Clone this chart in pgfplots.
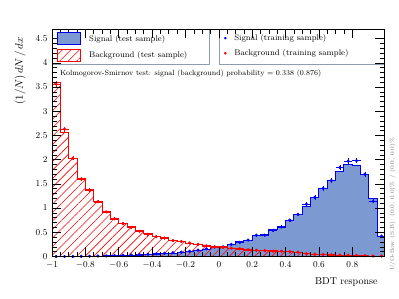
\documentclass[border=0pt]{standalone}
\usepackage{pgfplots}
\usepackage{pgfplotstable}
\pgfplotsset{compat=1.18}
\usetikzlibrary{patterns.meta}
\definecolor{sigfill}{HTML}{7D99D1}
\definecolor{sigline}{HTML}{0000EE}
\definecolor{legframe}{HTML}{8C9DB3}

% test-sample histograms (bin left edge, density); last row closes last bin
\pgfplotstableread{
x y
-1.00 0.000
-0.95 0.000
-0.90 0.000
-0.85 0.002
-0.80 0.005
-0.75 0.008
-0.70 0.012
-0.65 0.017
-0.60 0.022
-0.55 0.028
-0.50 0.035
-0.45 0.043
-0.40 0.052
-0.35 0.062
-0.30 0.072
-0.25 0.085
-0.20 0.100
-0.15 0.120
-0.10 0.150
-0.05 0.190
0.00 0.210
0.05 0.250
0.10 0.300
0.15 0.340
0.20 0.440
0.25 0.460
0.30 0.550
0.35 0.620
0.40 0.750
0.45 0.870
0.50 1.040
0.55 1.220
0.60 1.400
0.65 1.580
0.70 1.750
0.75 1.900
0.80 1.890
0.85 1.700
0.90 1.190
0.95 0.420
1.00 0.420
}\sigtest

\pgfplotstableread{
x y
-1.00 3.600
-0.95 2.570
-0.90 2.030
-0.85 1.620
-0.80 1.390
-0.75 1.130
-0.70 0.930
-0.65 0.790
-0.60 0.680
-0.55 0.620
-0.50 0.530
-0.45 0.470
-0.40 0.410
-0.35 0.390
-0.30 0.330
-0.25 0.310
-0.20 0.270
-0.15 0.250
-0.10 0.220
-0.05 0.200
0.00 0.200
0.05 0.170
0.10 0.155
0.15 0.140
0.20 0.130
0.25 0.120
0.30 0.115
0.35 0.110
0.40 0.100
0.45 0.090
0.50 0.060
0.55 0.045
0.60 0.040
0.65 0.035
0.70 0.030
0.75 0.025
0.80 0.020
0.85 0.015
0.90 0.010
0.95 0.010
1.00 0.010
}\bkgtest

% training samples (bin centre, density, error)
\pgfplotstableread{
x y e
-0.975 0.000 0.000
-0.925 0.000 0.000
-0.875 0.001 0.002
-0.825 0.003 0.003
-0.775 0.006 0.004
-0.725 0.010 0.005
-0.675 0.013 0.005
-0.625 0.019 0.006
-0.575 0.024 0.007
-0.525 0.030 0.008
-0.475 0.037 0.009
-0.425 0.045 0.010
-0.375 0.055 0.010
-0.325 0.066 0.011
-0.275 0.078 0.012
-0.225 0.090 0.013
-0.175 0.108 0.014
-0.125 0.130 0.015
-0.075 0.160 0.017
-0.025 0.195 0.018
0.025 0.200 0.018
0.075 0.250 0.020
0.125 0.290 0.021
0.175 0.340 0.023
0.225 0.440 0.026
0.275 0.440 0.026
0.325 0.540 0.029
0.375 0.610 0.031
0.425 0.750 0.034
0.475 0.870 0.037
0.525 1.080 0.041
0.575 1.220 0.044
0.625 1.410 0.047
0.675 1.570 0.050
0.725 1.840 0.054
0.775 1.970 0.056
0.825 1.980 0.056
0.875 1.700 0.052
0.925 1.140 0.043
0.975 0.420 0.026
}\sigtrain

\pgfplotstableread{
x y e
-0.975 3.560 0.060
-0.925 2.630 0.051
-0.875 2.030 0.045
-0.825 1.600 0.040
-0.775 1.370 0.037
-0.725 1.130 0.034
-0.675 0.920 0.030
-0.625 0.780 0.028
-0.575 0.680 0.026
-0.525 0.600 0.024
-0.475 0.520 0.023
-0.425 0.460 0.021
-0.375 0.410 0.020
-0.325 0.380 0.019
-0.275 0.330 0.018
-0.225 0.310 0.018
-0.175 0.280 0.017
-0.125 0.250 0.016
-0.075 0.220 0.015
-0.025 0.200 0.014
0.025 0.190 0.014
0.075 0.170 0.013
0.125 0.160 0.013
0.175 0.140 0.012
0.225 0.130 0.011
0.275 0.120 0.011
0.325 0.110 0.010
0.375 0.110 0.010
0.425 0.100 0.010
0.475 0.090 0.009
0.525 0.060 0.008
0.575 0.050 0.007
0.625 0.040 0.006
0.675 0.035 0.006
0.725 0.030 0.005
0.775 0.025 0.005
0.825 0.020 0.004
0.875 0.015 0.004
0.925 0.010 0.003
0.975 0.010 0.003
}\bkgtrain

\pgfplotsset{
  boxlegend/.style={legend image code/.code={\draw[##1] (0pt,-6pt) rectangle (23pt,6pt);}},
}

\begin{document}
\begin{tikzpicture}
\path[use as bounding box] (0,0) rectangle (399pt,299pt);
\begin{axis}[
  at={(52pt,42.5pt)}, anchor=south west,
  scale only axis, width=332pt, height=227pt,
  xmin=-1, xmax=0.99, ymin=0, ymax=4.69,
  clip mode=individual,
  xtick={-1,-0.8,-0.6,-0.4,-0.2,0,0.2,0.4,0.6,0.8},
  ytick={0,0.5,1,1.5,2,2.5,3,3.5,4,4.5},
  minor x tick num=3, minor y tick num=4,
  tick align=inside, tick pos=both,
  major tick length=9pt, minor tick length=4.5pt,
  every tick/.style={black, line width=0.6pt},
  axis line style={line width=0.7pt},
  axis on top,
  tick label style={font=\fontsize{9}{11}\selectfont},
  xticklabel style={yshift=-2pt},
  yticklabel style={xshift=-1pt},
  xlabel={BDT response},
  xlabel style={at={(axis description cs:1,0)}, anchor=base east, yshift=-28.5pt, xshift=-3pt, font=\fontsize{10}{12}\selectfont},
  ylabel={$(1/N)\,dN\,/\,dx$},
  ylabel style={at={(axis description cs:-0.096,0.982)}, anchor=east, font=\fontsize{11}{13}\selectfont},
  legend style={at={(axis description cs:0.012,0.993)}, anchor=north west, draw=none, fill=none,
    font=\fontsize{8.2}{10}\selectfont, row sep=3.5pt, inner xsep=1pt, inner ysep=1pt,
    cells={anchor=west}, /tikz/every odd column/.append style={column sep=6pt}},
  legend cell align=left,
]
\addplot[const plot, draw=sigline, fill=sigfill, line width=1pt, boxlegend] table[x=x,y=y] {\sigtest} \closedcycle;
\addlegendentry{Signal (test sample)}
\addplot[const plot, draw=red, line width=1pt, pattern={Lines[angle=45,distance=6pt,line width=0.6pt]}, pattern color=red, boxlegend] table[x=x,y=y] {\bkgtest} \closedcycle;
\addlegendentry{Background (test sample)}
\addplot[forget plot, only marks, mark=*, mark size=1.3pt, blue, line width=0.6pt,
  error bars/.cd, x dir=both, x fixed=0.025, y dir=both, y explicit, error mark=none]
  table[x=x,y=y,y error=e] {\sigtrain};
\addplot[forget plot, only marks, mark=*, mark size=1.3pt, red, line width=0.6pt,
  error bars/.cd, x dir=both, x fixed=0.025, y dir=both, y explicit, error mark=none]
  table[x=x,y=y,y error=e] {\bkgtrain};
\draw[legframe, line width=0.9pt] (axis description cs:0.473,1) -- (axis description cs:0.473,0.847) -- (axis description cs:0,0.847);
\draw[legframe, line width=0.9pt] (axis description cs:0.503,1) -- (axis description cs:0.503,0.847) -- (axis description cs:1,0.847);
\node[anchor=west, font=\fontsize{7.5}{9}\selectfont, inner sep=0pt] at (axis description cs:0.024,0.8075)
  {Kolmogorov-Smirnov test: signal (background) probability = 0.338 (0.876)};
\node[rotate=90, font=\fontsize{6}{7}\selectfont, text=gray, inner sep=0pt] at (axis description cs:1.0256,0.2304)
  {U/O-flow (S,B): (0.0, 0.0)\% / (0.0, 0.0)\%};
\end{axis}
\begin{axis}[
  at={(52pt,42.5pt)}, anchor=south west,
  scale only axis, width=332pt, height=227pt,
  xmin=0, xmax=1, ymin=0, ymax=1, hide axis,
  legend style={at={(axis description cs:0.515,0.993)}, anchor=north west, draw=none, fill=none,
    font=\fontsize{8.2}{10}\selectfont, row sep=3.5pt, inner xsep=1pt, inner ysep=1pt,
    cells={anchor=west}, /tikz/every odd column/.append style={column sep=6pt}},
  legend cell align=left,
]
\addlegendimage{only marks, mark=*, mark size=1.1pt, blue}
\addlegendentry{Signal (training sample)}
\addlegendimage{only marks, mark=*, mark size=1.1pt, red}
\addlegendentry{Background (training sample)}
\end{axis}
\end{tikzpicture}
\end{document}
